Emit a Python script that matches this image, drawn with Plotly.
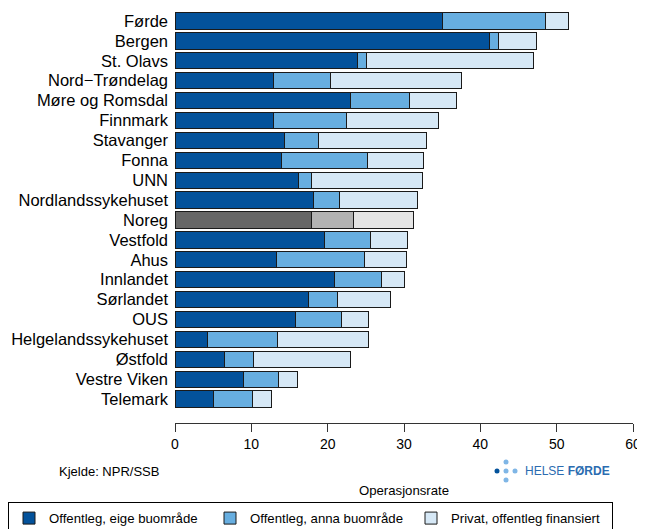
import plotly.graph_objects as go

categories = ["Førde", "Bergen", "St. Olavs", "Nord−Trøndelag", "Møre og Romsdal",
              "Finnmark", "Stavanger", "Fonna", "UNN", "Nordlandssykehuset",
              "Noreg", "Vestfold", "Ahus", "Innlandet", "Sørlandet", "OUS",
              "Helgelandssykehuset", "Østfold", "Vestre Viken", "Telemark"]

eige = [35.1, 41.2, 23.9, 12.9, 23.0, 12.9, 14.3, 13.9, 16.2, 18.2,
        17.9, 19.6, 13.3, 20.9, 17.5, 15.8, 4.3, 6.5, 9.0, 5.0]
anna = [13.5, 1.2, 1.2, 7.5, 7.7, 9.6, 4.5, 11.3, 1.7, 3.3,
        5.5, 6.0, 11.5, 6.2, 3.8, 6.0, 9.1, 3.8, 4.5, 5.1]
privat = [2.9, 5.0, 21.8, 17.1, 6.2, 12.0, 14.1, 7.4, 14.5, 10.3,
          7.8, 4.8, 5.5, 3.0, 6.9, 3.5, 11.9, 12.7, 2.6, 2.6]

series_names = ["Offentleg, eige buområde", "Offentleg, anna buområde",
                "Privat, offentleg finansiert"]
blue_colors = ["#03529B", "#67AEE0", "#D6E8F6"]
grey_colors = ["#666666", "#B3B3B3", "#E5E5E5"]

x_ticks = [0, 10, 20, 30, 40, 50, 60]

FONT = "Liberation Sans, Arial, sans-serif"

fig = go.Figure()
for vals, name, bc, gc in zip([eige, anna, privat], series_names, blue_colors, grey_colors):
    cols = [gc if c == "Noreg" else bc for c in categories]
    fig.add_trace(go.Bar(
        y=categories, x=vals, name=name, orientation="h",
        marker=dict(color=cols, line=dict(color="#1a1a1a", width=1)),
        width=0.82,
    ))

n = len(categories)
# the page body adds an 8px margin; work in window pixels and shift
OFF = 8
W, H = 645 - OFF, 529 - OFF
plot_left, plot_right, plot_top, plot_bottom = 175 - OFF, 633 - OFF, 11 - OFF, 423 - OFF
L, R, T, B = plot_left, W - plot_right, plot_top, H - plot_bottom
pw, ph = plot_right - plot_left, plot_bottom - plot_top


def px_x(p):  # window pixel -> paper x
    return (p - OFF - plot_left) / pw


def px_y(p):  # window pixel -> paper y
    return (plot_bottom - (p - OFF)) / ph


fig.update_layout(
    barmode="stack",
    width=W, height=H,
    margin=dict(l=L, r=R, t=T, b=B, autoexpand=False),
    paper_bgcolor="white", plot_bgcolor="white",
    font=dict(family=FONT, size=14, color="black"),
    showlegend=True,
    legend=dict(orientation="h",
                x=px_x(8), xanchor="left", y=px_y(502), yanchor="top",
                bordercolor="black", borderwidth=1, font=dict(size=13.2),
                traceorder="normal", itemwidth=30, entrywidth=156, entrywidthmode="pixels"),
    xaxis=dict(range=[0, 60], tickvals=x_ticks, showgrid=False, zeroline=False,
               showline=True, linecolor="#333", linewidth=1, ticks="outside",
               ticklen=8, tickcolor="#333", tickfont=dict(size=14),
               title=dict(text="Operasjonsrate", font=dict(size=13.2), standoff=34)),
    yaxis=dict(categoryorder="array", categoryarray=categories,
               tickmode="linear", tick0=0, dtick=1,
               range=[n - 1 + 1.2, -0.5], showgrid=False, zeroline=False,
               showline=False, ticks="", tickfont=dict(size=16.5), ticklabelstandoff=6),
)

fig.add_annotation(xref="paper", yref="paper", x=px_x(57), y=px_y(471),
                   text="Kjelde: NPR/SSB", showarrow=False, xanchor="left", yanchor="middle",
                   font=dict(size=13))
# logo
fig.add_annotation(xref="paper", yref="paper", x=px_x(523), y=px_y(471),
                   text="HELSE <b>FØRDE</b>", showarrow=False, xanchor="left", yanchor="middle",
                   font=dict(size=12, color="#2B6CB0"))
dots = [(497, 471, "#03529B"), (506, 471, "#7FB6E6"), (515, 471, "#7FB6E6"),
        (506, 462, "#7FB6E6"), (506, 480, "#7FB6E6")]
for px, py, c in dots:
    fig.add_shape(type="circle", xref="paper", yref="paper",
                  x0=px_x(px - 2.5), x1=px_x(px + 2.5),
                  y0=px_y(py + 2.5), y1=px_y(py - 2.5),
                  fillcolor=c, line=dict(width=0))

fig.write_html("out.html")
